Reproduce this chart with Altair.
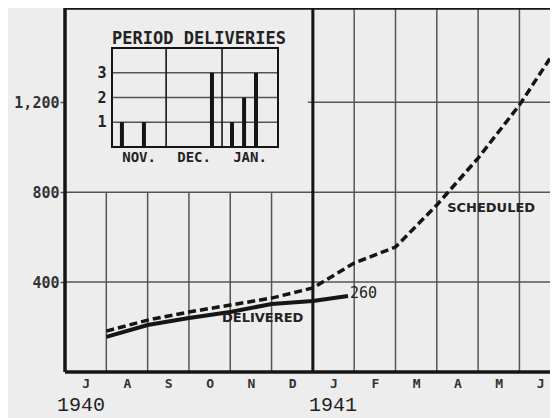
import altair as alt
import pandas as pd

# ---------------- data ----------------
# month index: 0 = 1 July 1940, 6 = 1 January 1941
month_letters = ["J", "A", "S", "O", "N", "D", "J", "F", "M", "A", "M", "J"]
years = ["1940", "1941"]
year_pos = [0.39, 6.49]

sched_x = [1, 2, 3, 4, 5, 6, 7, 8, 9, 10, 11, 11.92]
sched_y = [182, 231, 267, 298, 329, 374, 485, 556, 743, 952, 1188, 1446]
deliv_x = [1, 2, 3, 4, 5, 6, 6.85]
deliv_y = [156, 209, 240, 267, 303, 316, 338]

y_ticks = [400, 800, 1200]

# inset: period deliveries (day counted from 1 Nov 1940)
inset_months = ["NOV.", "DEC.", "JAN."]
inset_month_days = [30, 31, 31]
inset_day = [5.5, 17.7, 55.4, 66.5, 73.2, 79.8]
inset_count = [1, 1, 3, 1, 2, 3]
inset_ticks = [1, 2, 3]

# ---------------- geometry / styles ----------------
W, H = 485, 364
X_MAX = 11.74
Y_MAX = 1620
INK = "#151515"
GRID = "#555555"
BG = "#ededed"
MONO = "DejaVu Sans Mono"

xs = alt.Scale(domain=[0, X_MAX], nice=False, zero=False)
ys = alt.Scale(domain=[0, Y_MAX], nice=False, zero=False)

label_expr = "[" + ",".join("'%s'" % m for m in month_letters) + "][floor(datum.value)]"
x_axis = alt.Axis(
    values=[i + 0.5 for i in range(len(month_letters))],
    labelExpr=label_expr, title=None, domain=False, ticks=False, grid=False,
    labelFont=MONO, labelFontSize=13, labelFontWeight="bold", labelColor="#333",
    labelPadding=5, labelAngle=0,
)
y_axis = alt.Axis(
    values=y_ticks, format=",.0f", title=None, domain=False, grid=False,
    tickSize=5, tickColor=GRID, tickWidth=1.5, labelPadding=1,
    labelFont=MONO, labelFontSize=15, labelFontWeight="bold", labelColor="#333",
)

def X(field="x"):
    return alt.X(field, type="quantitative", scale=xs, axis=x_axis)

def Y(field="y"):
    return alt.Y(field, type="quantitative", scale=ys, axis=y_axis)

# vertical gridlines at month boundaries (left part stops under the inset)
gv = pd.DataFrame({
    "x": list(range(1, 12)),
    "y": [0] * 11,
    "y1": [800 if m < 6 else Y_MAX for m in range(1, 12)],
})
grid_v = alt.Chart(gv).mark_rule(color=GRID, strokeWidth=1.5).encode(
    x=X(), y=Y(), y2="y1:Q")

gh = pd.DataFrame({
    "y": y_ticks,
    "x": [0, 0, 5.88],
    "x1": [X_MAX] * 3,
})
grid_h = alt.Chart(gh).mark_rule(color=GRID, strokeWidth=1.5).encode(
    y=Y(), x=X(), x2="x1:Q")

year_line = alt.Chart(pd.DataFrame({"x": [6], "y": [0], "y1": [Y_MAX]})).mark_rule(
    color=INK, strokeWidth=3).encode(x=X(), y=Y(), y2="y1:Q")

frame_v = alt.Chart(pd.DataFrame({"x": [0], "y": [0], "y1": [Y_MAX]})).mark_rule(
    color=INK, strokeWidth=3.5).encode(x=X(), y=Y(), y2="y1:Q")
frame_h = alt.Chart(pd.DataFrame({"y": [0, Y_MAX], "x": [0, 0], "x1": [X_MAX, X_MAX]})).mark_rule(
    color=INK, strokeWidth=3.5).encode(y=Y(), x=X(), x2="x1:Q")

sched = alt.Chart(pd.DataFrame({"x": sched_x, "y": sched_y})).mark_line(
    color=INK, strokeWidth=3.5, strokeDash=[8, 4], clip=True).encode(x=X(), y=Y())
deliv = alt.Chart(pd.DataFrame({"x": deliv_x, "y": deliv_y})).mark_line(
    color=INK, strokeWidth=4, clip=True).encode(x=X(), y=Y())

ann = pd.DataFrame({
    "x": [9.25, 3.8],
    "y": [730, 240],
    "t": ["SCHEDULED", "DELIVERED"],
})
ann_text = alt.Chart(ann).mark_text(
    align="left", baseline="middle", font="DejaVu Sans", fontSize=13,
    fontWeight="bold", color="#222").encode(x=X(), y=Y(), text="t:N")
end_text = alt.Chart(pd.DataFrame({"x": [6.9], "y": [352], "t": ["260"]})).mark_text(
    align="left", baseline="middle", font=MONO, fontSize=15, color="#222").encode(
    x=X(), y=Y(), text="t:N")
year_text = alt.Chart(pd.DataFrame({"x": year_pos, "y": [-148, -148], "t": years})).mark_text(
    align="center", baseline="middle", font="Liberation Mono", fontSize=20,
    color="#222").encode(x=X(), y=Y(), text="t:N")

main = alt.layer(grid_v, grid_h, year_line, frame_v, frame_h, sched, deliv,
                 ann_text, end_text, year_text)

# ---------------- inset ----------------
I_MAX = sum(inset_month_days)
ixs = alt.Scale(domain=[0, I_MAX], range=[47, 213], nice=False, zero=False)
iys = alt.Scale(domain=[0, 4], range=[139, 40], nice=False, zero=False)

def IX(field="x"):
    return alt.X(field, type="quantitative", scale=ixs, axis=None)

def IY(field="y"):
    return alt.Y(field, type="quantitative", scale=iys, axis=None)

bounds = [sum(inset_month_days[:i]) for i in range(1, len(inset_month_days))]
i_div = alt.Chart(pd.DataFrame({"x": bounds, "y": [0] * len(bounds), "y1": [4] * len(bounds)})).mark_rule(
    color=INK, strokeWidth=1.6).encode(x=IX(), y=IY(), y2="y1:Q")
i_grid = alt.Chart(pd.DataFrame({"y": inset_ticks, "x": [0] * 3, "x1": [I_MAX] * 3})).mark_rule(
    color=GRID, strokeWidth=1.3).encode(y=IY(), x=IX(), x2="x1:Q")
i_box = alt.Chart(pd.DataFrame({"x": [0], "x1": [I_MAX], "y": [0], "y1": [4]})).mark_rect(
    filled=False, stroke=INK, strokeWidth=2).encode(x=IX(), x2="x1:Q", y=IY(), y2="y1:Q")
i_bars = alt.Chart(pd.DataFrame({"x": inset_day, "y": inset_count, "y0": [0] * len(inset_day)})).mark_rule(
    color=INK, strokeWidth=4).encode(x=IX(), y=IY(), y2="y0:Q")
i_ylab = alt.Chart(pd.DataFrame({"x": [-3] * 3, "y": inset_ticks, "t": [str(v) for v in inset_ticks]})).mark_text(
    align="right", baseline="middle", font=MONO, fontSize=15, fontWeight="bold", color="#222").encode(
    x=IX(), y=IY(), text="t:N")
centers = []
acc = 0
for d in inset_month_days:
    centers.append(acc + d / 2)
    acc += d
i_xlab = alt.Chart(pd.DataFrame({"x": centers, "y": [-0.45] * 3, "t": inset_months})).mark_text(
    align="center", baseline="middle", font=MONO, fontSize=14, fontWeight="bold", color="#222").encode(
    x=IX(), y=IY(), text="t:N")
i_title = alt.Chart(pd.DataFrame({"x": [0], "y": [4.38], "t": ["PERIOD DELIVERIES"]})).mark_text(
    align="left", baseline="middle", font=MONO, fontSize=17, fontWeight="bold", color="#222").encode(
    x=IX(), y=IY(), text="t:N")

inset = alt.layer(i_grid, i_div, i_box, i_bars, i_ylab, i_xlab, i_title)

chart = alt.layer(main, inset).resolve_scale(x="independent", y="independent").properties(
    width=W, height=H,
    padding={"left": 57, "top": 0, "right": 0, "bottom": 46},
    autosize=alt.AutoSizeParams(type="none"),
    background=BG,
).configure_view(stroke=None)

chart.save("out.html", embed_options={"renderer": "svg", "actions": False})
